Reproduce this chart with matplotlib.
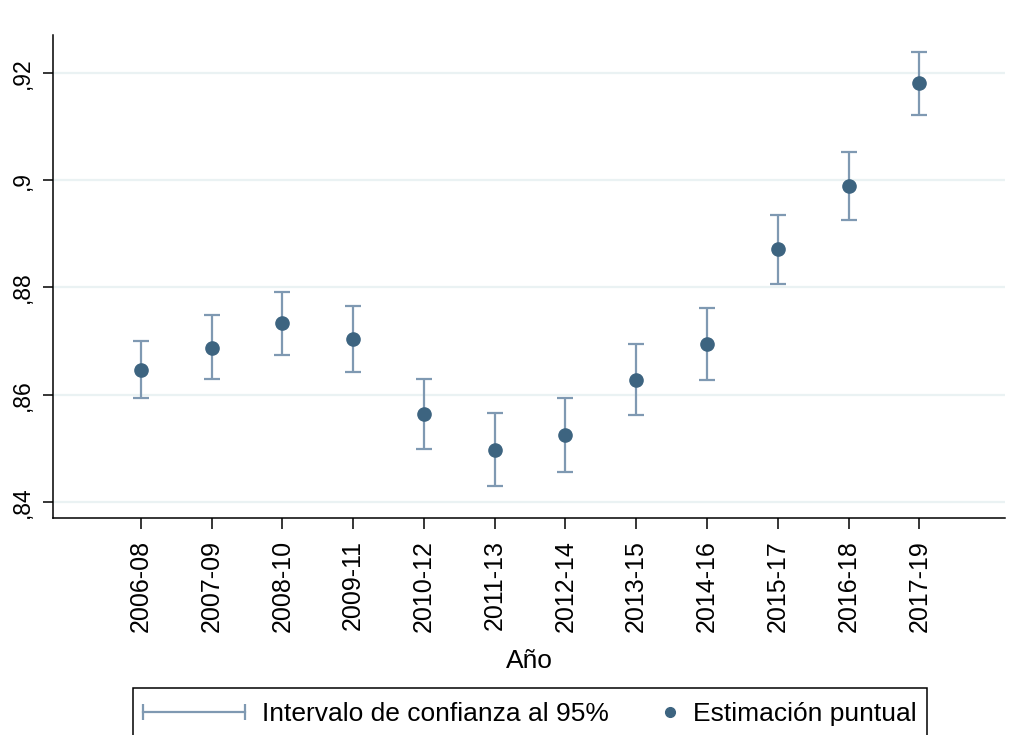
import matplotlib
matplotlib.use("Agg")
import matplotlib.pyplot as plt
from matplotlib.lines import Line2D
from matplotlib.legend_handler import HandlerBase

plt.rcParams['font.family'] = ['Liberation Sans', 'DejaVu Sans']

# data
periods = ["2006-08", "2007-09", "2008-10", "2009-11", "2010-12", "2011-13",
           "2012-14", "2013-15", "2014-16", "2015-17", "2016-18", "2017-19"]
estimate = [0.8646, 0.8688, 0.8733, 0.8703, 0.8564, 0.8497,
            0.8524, 0.8628, 0.8694, 0.8871, 0.8990, 0.9181]
ci_low = [0.8593, 0.8630, 0.8674, 0.8643, 0.8499, 0.8429,
          0.8456, 0.8562, 0.8628, 0.8807, 0.8926, 0.9122]
ci_high = [0.8700, 0.8748, 0.8792, 0.8765, 0.8630, 0.8565,
           0.8593, 0.8695, 0.8761, 0.8936, 0.9053, 0.9240]
y_ticks = [0.84, 0.86, 0.88, 0.90, 0.92]
y_ticklabels = [",84", ",86", ",88", ",9", ",92"]

POINT_COL = "#3d6480"
CI_COL = "#7f99b2"
GRID_COL = "#eaf2f3"
FS = 19

x = list(range(len(periods)))
err_lo = [e - l for e, l in zip(estimate, ci_low)]
err_hi = [h - e for e, h in zip(estimate, ci_high)]

fig = plt.figure(figsize=(10.15, 7.35), dpi=100)
ax = fig.add_axes([53 / 1015, 1 - 518 / 735, (1005 - 53) / 1015, (518 - 35) / 735])

ax.errorbar(x, estimate, yerr=[err_lo, err_hi], fmt="none", ecolor=CI_COL,
            elinewidth=1.6, capsize=6, capthick=1.6, zorder=2)
ax.plot(x, estimate, "o", color=POINT_COL, markersize=9.5, zorder=3)

ax.set_xlim(-1.24, 12.21)
ax.set_ylim(0.837, 0.9271)
ax.set_yticks(y_ticks)
ax.set_yticklabels(y_ticklabels, rotation=90, va="center", fontsize=16.5)
ax.set_xticks(x)
ax.set_xticklabels(periods, rotation=90, fontsize=18)
ax.set_xlabel("Año", fontsize=FS, labelpad=12)

ax.yaxis.grid(True, color=GRID_COL, linewidth=1.6)
ax.set_axisbelow(True)
for s in ["top", "right"]:
    ax.spines[s].set_visible(False)
for s in ["left", "bottom"]:
    ax.spines[s].set_linewidth(1.1)
ax.tick_params(axis="x", length=8, width=1.1, pad=8)
ax.tick_params(axis="y", length=7.5, width=1.1, pad=6)


class CIHandler(HandlerBase):
    def create_artists(self, legend, orig_handle, xdescent, ydescent,
                       width, height, fontsize, trans):
        yc = height / 2 - ydescent
        ln = Line2D([-xdescent, width - xdescent], [yc, yc], color=CI_COL,
                    linewidth=1.6, marker="|", markersize=11,
                    markeredgewidth=1.6, transform=trans)
        return [ln]


class DotHandler(HandlerBase):
    def create_artists(self, legend, orig_handle, xdescent, ydescent,
                       width, height, fontsize, trans):
        yc = height / 2 - ydescent
        dot = Line2D([width - xdescent - 4.5], [yc], color=POINT_COL,
                     marker="o", markersize=7, linestyle="none", transform=trans)
        return [dot]


ci_handle = Line2D([], [])
dot_handle = Line2D([], [], marker="o")
leg = fig.legend([ci_handle, dot_handle],
                 ["Intervalo de confianza al 95%", "Estimación puntual"],
                 handler_map={ci_handle: CIHandler(), dot_handle: DotHandler()},
                 loc="upper left", bbox_to_anchor=(133 / 1015, 1 - 688 / 735),
                 borderaxespad=0, ncol=2, fontsize=FS, handlelength=3.86,
                 handleheight=1.3, handletextpad=0.64, columnspacing=-1.3,
                 borderpad=0.38, fancybox=False, frameon=True, framealpha=1)
leg.get_frame().set_edgecolor("black")
leg.get_frame().set_linewidth(1.1)

fig.savefig("out.png", dpi=100)
